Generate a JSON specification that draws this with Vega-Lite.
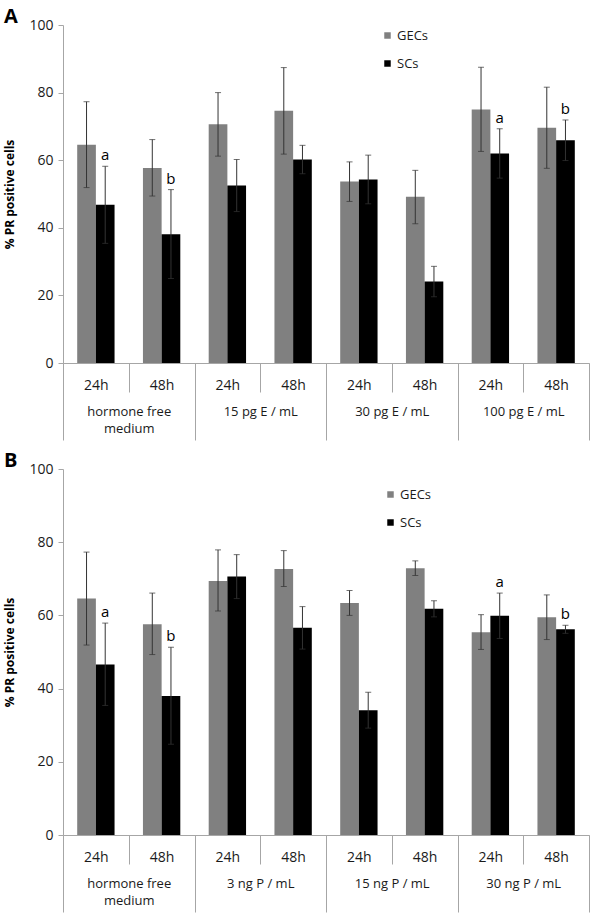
{
  "$schema": "https://vega.github.io/schema/vega-lite/v6.json",
  "padding": {"left": 3, "top": 7, "right": 5, "bottom": 0},
  "config": {
    "font": "Open Sans",
    "view": {"stroke": null},
    "axis": {"domainColor": "#a6a6a6", "tickColor": "#a6a6a6", "labelColor": "#1a1a1a", "labelFont": "Open Sans", "grid": false},
    "title": {"anchor": "start", "fontSize": 20, "fontWeight": "bold", "color": "#000000", "frame": "bounds", "offset": -9}
  },
  "datasets": {
    "d": [
      {"panel": "A", "treatment": "hormone free medium", "time": "24h", "key": "hormone free medium 24h", "cell": "GECs", "value": 64.6, "lo": 51.9, "hi": 77.3, "letter": ""},
      {"panel": "A", "treatment": "hormone free medium", "time": "24h", "key": "hormone free medium 24h", "cell": "SCs", "value": 46.8, "lo": 35.4, "hi": 58.2, "letter": "a"},
      {"panel": "A", "treatment": "hormone free medium", "time": "48h", "key": "hormone free medium 48h", "cell": "GECs", "value": 57.7, "lo": 49.4, "hi": 66.1, "letter": ""},
      {"panel": "A", "treatment": "hormone free medium", "time": "48h", "key": "hormone free medium 48h", "cell": "SCs", "value": 38.1, "lo": 25.0, "hi": 51.3, "letter": "b"},
      {"panel": "A", "treatment": "15 pg E / mL", "time": "24h", "key": "15 pg E / mL 24h", "cell": "GECs", "value": 70.6, "lo": 61.2, "hi": 80.0, "letter": ""},
      {"panel": "A", "treatment": "15 pg E / mL", "time": "24h", "key": "15 pg E / mL 24h", "cell": "SCs", "value": 52.5, "lo": 44.8, "hi": 60.2, "letter": ""},
      {"panel": "A", "treatment": "15 pg E / mL", "time": "48h", "key": "15 pg E / mL 48h", "cell": "GECs", "value": 74.6, "lo": 61.8, "hi": 87.4, "letter": ""},
      {"panel": "A", "treatment": "15 pg E / mL", "time": "48h", "key": "15 pg E / mL 48h", "cell": "SCs", "value": 60.2, "lo": 56.0, "hi": 64.4, "letter": ""},
      {"panel": "A", "treatment": "30 pg E / mL", "time": "24h", "key": "30 pg E / mL 24h", "cell": "GECs", "value": 53.7, "lo": 47.8, "hi": 59.5, "letter": ""},
      {"panel": "A", "treatment": "30 pg E / mL", "time": "24h", "key": "30 pg E / mL 24h", "cell": "SCs", "value": 54.3, "lo": 47.1, "hi": 61.5, "letter": ""},
      {"panel": "A", "treatment": "30 pg E / mL", "time": "48h", "key": "30 pg E / mL 48h", "cell": "GECs", "value": 49.2, "lo": 41.2, "hi": 57.0, "letter": ""},
      {"panel": "A", "treatment": "30 pg E / mL", "time": "48h", "key": "30 pg E / mL 48h", "cell": "SCs", "value": 24.1, "lo": 19.6, "hi": 28.6, "letter": ""},
      {"panel": "A", "treatment": "100 pg E / mL", "time": "24h", "key": "100 pg E / mL 24h", "cell": "GECs", "value": 75.0, "lo": 62.6, "hi": 87.5, "letter": ""},
      {"panel": "A", "treatment": "100 pg E / mL", "time": "24h", "key": "100 pg E / mL 24h", "cell": "SCs", "value": 62.0, "lo": 54.7, "hi": 69.3, "letter": "a"},
      {"panel": "A", "treatment": "100 pg E / mL", "time": "48h", "key": "100 pg E / mL 48h", "cell": "GECs", "value": 69.6, "lo": 57.6, "hi": 81.6, "letter": ""},
      {"panel": "A", "treatment": "100 pg E / mL", "time": "48h", "key": "100 pg E / mL 48h", "cell": "SCs", "value": 65.9, "lo": 59.9, "hi": 71.9, "letter": "b"},
      {"panel": "B", "treatment": "hormone free medium", "time": "24h", "key": "hormone free medium 24h", "cell": "GECs", "value": 64.6, "lo": 51.9, "hi": 77.3, "letter": ""},
      {"panel": "B", "treatment": "hormone free medium", "time": "24h", "key": "hormone free medium 24h", "cell": "SCs", "value": 46.6, "lo": 35.4, "hi": 57.9, "letter": "a"},
      {"panel": "B", "treatment": "hormone free medium", "time": "48h", "key": "hormone free medium 48h", "cell": "GECs", "value": 57.6, "lo": 49.3, "hi": 66.1, "letter": ""},
      {"panel": "B", "treatment": "hormone free medium", "time": "48h", "key": "hormone free medium 48h", "cell": "SCs", "value": 38.0, "lo": 24.8, "hi": 51.3, "letter": "b"},
      {"panel": "B", "treatment": "3 ng P / mL", "time": "24h", "key": "3 ng P / mL 24h", "cell": "GECs", "value": 69.4, "lo": 61.2, "hi": 77.9, "letter": ""},
      {"panel": "B", "treatment": "3 ng P / mL", "time": "24h", "key": "3 ng P / mL 24h", "cell": "SCs", "value": 70.6, "lo": 64.6, "hi": 76.6, "letter": ""},
      {"panel": "B", "treatment": "3 ng P / mL", "time": "48h", "key": "3 ng P / mL 48h", "cell": "GECs", "value": 72.7, "lo": 67.9, "hi": 77.7, "letter": ""},
      {"panel": "B", "treatment": "3 ng P / mL", "time": "48h", "key": "3 ng P / mL 48h", "cell": "SCs", "value": 56.6, "lo": 50.8, "hi": 62.4, "letter": ""},
      {"panel": "B", "treatment": "15 ng P / mL", "time": "24h", "key": "15 ng P / mL 24h", "cell": "GECs", "value": 63.4, "lo": 60.0, "hi": 66.8, "letter": ""},
      {"panel": "B", "treatment": "15 ng P / mL", "time": "24h", "key": "15 ng P / mL 24h", "cell": "SCs", "value": 34.1, "lo": 29.2, "hi": 39.0, "letter": ""},
      {"panel": "B", "treatment": "15 ng P / mL", "time": "48h", "key": "15 ng P / mL 48h", "cell": "GECs", "value": 72.9, "lo": 70.9, "hi": 74.9, "letter": ""},
      {"panel": "B", "treatment": "15 ng P / mL", "time": "48h", "key": "15 ng P / mL 48h", "cell": "SCs", "value": 61.8, "lo": 59.6, "hi": 64.0, "letter": ""},
      {"panel": "B", "treatment": "30 ng P / mL", "time": "24h", "key": "30 ng P / mL 24h", "cell": "GECs", "value": 55.4, "lo": 50.7, "hi": 60.2, "letter": ""},
      {"panel": "B", "treatment": "30 ng P / mL", "time": "24h", "key": "30 ng P / mL 24h", "cell": "SCs", "value": 59.9, "lo": 53.7, "hi": 66.1, "letter": "a"},
      {"panel": "B", "treatment": "30 ng P / mL", "time": "48h", "key": "30 ng P / mL 48h", "cell": "GECs", "value": 59.5, "lo": 53.4, "hi": 65.6, "letter": ""},
      {"panel": "B", "treatment": "30 ng P / mL", "time": "48h", "key": "30 ng P / mL 48h", "cell": "SCs", "value": 56.2, "lo": 55.1, "hi": 57.3, "letter": "b"}
    ]
  },
  "spacing": 10,
  "resolve": {"legend": {"color": "independent"}},
  "vconcat": [
    {
      "width": 526,
      "height": 338,
      "title": {"text": "A"},
      "data": {"name": "d"},
      "transform": [{"filter": "datum.panel == 'A'"}],
      "resolve": {"scale": {"x": "independent"}, "axis": {"x": "independent"}},
      "layer": [
        {
          "encoding": {
            "x": {"field": "key", "type": "nominal", "scale": {"domain": ["hormone free medium 24h", "hormone free medium 48h", "15 pg E / mL 24h", "15 pg E / mL 48h", "30 pg E / mL 24h", "30 pg E / mL 48h", "100 pg E / mL 24h", "100 pg E / mL 48h"], "paddingInner": 0, "paddingOuter": 0},
              "axis": {"title": null, "orient": "bottom", "labelExpr": "slice(datum.label, -3)", "tickBand": "extent", "tickSize": 29, "labelPadding": -14, "labelFontSize": 14, "labelAngle": 0}},
            "xOffset": {"field": "cell", "type": "nominal", "scale": {"domain": ["GECs", "SCs"], "paddingOuter": 0.76, "paddingInner": 0}}
          },
          "layer": [
            {
              "mark": {"type": "bar"},
              "encoding": {
                "y": {"field": "value", "type": "quantitative", "scale": {"domain": [0, 100], "nice": false},
                  "axis": {"title": "% PR positive cells", "titleFontSize": 12, "titleFontWeight": "bold", "titleColor": "#000000", "titlePadding": 12, "values": [0, 20, 40, 60, 80, 100], "tickSize": 5, "labelFontSize": 14, "labelPadding": 5}},
                "color": {"field": "cell", "type": "nominal", "scale": {"domain": ["GECs", "SCs"], "range": ["#808080", "#000000"]},
                  "legend": {"orient": "none", "legendX": 318, "legendY": 4, "title": null, "symbolType": "square", "symbolSize": 42, "symbolStrokeWidth": 0, "labelFontSize": 13, "labelColor": "#1a1a1a", "rowPadding": 14, "labelOffset": 3, "padding": 0}}
              }
            },
            {
              "mark": {"type": "rule", "color": "#333333", "strokeWidth": 1},
              "encoding": {"y": {"field": "lo", "type": "quantitative"}, "y2": {"field": "hi"}}
            },
            {
              "mark": {"type": "tick", "color": "#333333", "size": 6, "thickness": 1, "orient": "horizontal"},
              "encoding": {"y": {"field": "hi", "type": "quantitative"}}
            },
            {
              "mark": {"type": "tick", "color": "#333333", "size": 6, "thickness": 1, "orient": "horizontal"},
              "encoding": {"y": {"field": "lo", "type": "quantitative"}}
            },
            {
              "transform": [{"filter": "datum.letter != ''"}],
              "mark": {"type": "text", "fontSize": 15, "color": "#000000", "baseline": "alphabetic", "dy": -6},
              "encoding": {"y": {"field": "hi", "type": "quantitative"}, "text": {"field": "letter"}}
            }
          ]
        },
        {
          "transform": [{"filter": "datum.cell == 'GECs'"}],
          "mark": {"type": "point", "opacity": 0},
          "encoding": {
            "x": {"field": "treatment", "type": "nominal", "scale": {"type": "band", "domain": ["hormone free medium", "15 pg E / mL", "30 pg E / mL", "100 pg E / mL"], "paddingInner": 0, "paddingOuter": 0},
              "axis": {"title": null, "orient": "bottom", "domain": false, "tickBand": "extent", "tickSize": 77, "labelPadding": -35, "labelFontSize": 13, "labelAngle": 0, "labelLineHeight": 17, "labelExpr": "datum.label == 'hormone free medium' ? ['hormone free', 'medium'] : datum.label"}},
            "y": {"field": "value", "type": "quantitative"}
          }
        }
      ]
    },
    {
      "width": 526,
      "height": 366,
      "title": {"text": "B"},
      "data": {"name": "d"},
      "transform": [{"filter": "datum.panel == 'B'"}],
      "resolve": {"scale": {"x": "independent"}, "axis": {"x": "independent"}},
      "layer": [
        {
          "encoding": {
            "x": {"field": "key", "type": "nominal", "scale": {"domain": ["hormone free medium 24h", "hormone free medium 48h", "3 ng P / mL 24h", "3 ng P / mL 48h", "15 ng P / mL 24h", "15 ng P / mL 48h", "30 ng P / mL 24h", "30 ng P / mL 48h"], "paddingInner": 0, "paddingOuter": 0},
              "axis": {"title": null, "orient": "bottom", "labelExpr": "slice(datum.label, -3)", "tickBand": "extent", "tickSize": 29, "labelPadding": -14, "labelFontSize": 14, "labelAngle": 0}},
            "xOffset": {"field": "cell", "type": "nominal", "scale": {"domain": ["GECs", "SCs"], "paddingOuter": 0.76, "paddingInner": 0}}
          },
          "layer": [
            {
              "mark": {"type": "bar"},
              "encoding": {
                "y": {"field": "value", "type": "quantitative", "scale": {"domain": [0, 100], "nice": false},
                  "axis": {"title": "% PR positive cells", "titleFontSize": 12, "titleFontWeight": "bold", "titleColor": "#000000", "titlePadding": 12, "values": [0, 20, 40, 60, 80, 100], "tickSize": 5, "labelFontSize": 14, "labelPadding": 5}},
                "color": {"field": "cell", "type": "nominal", "scale": {"domain": ["GECs", "SCs"], "range": ["#808080", "#000000"]},
                  "legend": {"orient": "none", "legendX": 321, "legendY": 19, "title": null, "symbolType": "square", "symbolSize": 42, "symbolStrokeWidth": 0, "labelFontSize": 13, "labelColor": "#1a1a1a", "rowPadding": 14, "labelOffset": 3, "padding": 0}}
              }
            },
            {
              "mark": {"type": "rule", "color": "#333333", "strokeWidth": 1},
              "encoding": {"y": {"field": "lo", "type": "quantitative"}, "y2": {"field": "hi"}}
            },
            {
              "mark": {"type": "tick", "color": "#333333", "size": 6, "thickness": 1, "orient": "horizontal"},
              "encoding": {"y": {"field": "hi", "type": "quantitative"}}
            },
            {
              "mark": {"type": "tick", "color": "#333333", "size": 6, "thickness": 1, "orient": "horizontal"},
              "encoding": {"y": {"field": "lo", "type": "quantitative"}}
            },
            {
              "transform": [{"filter": "datum.letter != ''"}],
              "mark": {"type": "text", "fontSize": 15, "color": "#000000", "baseline": "alphabetic", "dy": -6},
              "encoding": {"y": {"field": "hi", "type": "quantitative"}, "text": {"field": "letter"}}
            }
          ]
        },
        {
          "transform": [{"filter": "datum.cell == 'GECs'"}],
          "mark": {"type": "point", "opacity": 0},
          "encoding": {
            "x": {"field": "treatment", "type": "nominal", "scale": {"type": "band", "domain": ["hormone free medium", "3 ng P / mL", "15 ng P / mL", "30 ng P / mL"], "paddingInner": 0, "paddingOuter": 0},
              "axis": {"title": null, "orient": "bottom", "domain": false, "tickBand": "extent", "tickSize": 77, "labelPadding": -35, "labelFontSize": 13, "labelAngle": 0, "labelLineHeight": 17, "labelExpr": "datum.label == 'hormone free medium' ? ['hormone free', 'medium'] : datum.label"}},
            "y": {"field": "value", "type": "quantitative"}
          }
        }
      ]
    }
  ]
}
